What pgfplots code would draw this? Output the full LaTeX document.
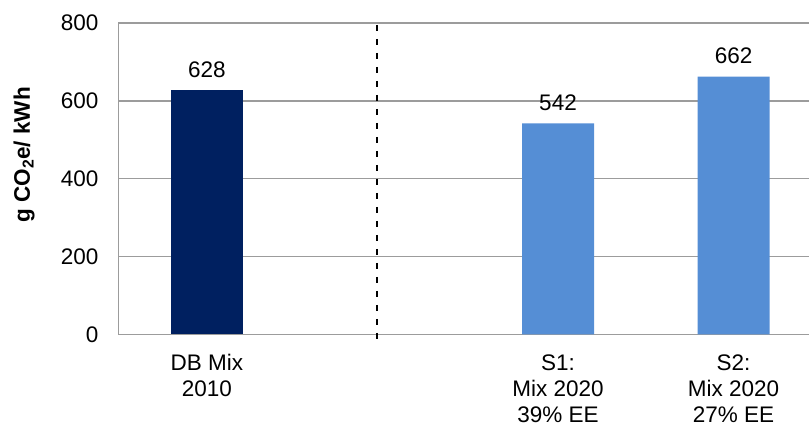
\documentclass[border=0pt]{standalone}
\usepackage{pgfplots}
\pgfplotsset{compat=1.18}
\usepackage{fontspec}
\setmainfont{Liberation Sans}
\definecolor{navybar}{HTML}{002060}
\definecolor{bluebar}{HTML}{558ED5}
\definecolor{gridgray}{HTML}{9C9C9C}

\begin{document}
\begin{tikzpicture}
\begin{axis}[
  name=ax,
  scale only axis,
  width=690.5bp, height=311.5bp,
  xmin=-0.504, xmax=3.43,
  ymin=0, ymax=800,
  ytick={0,200,400,600,800},
  xtick={0,2,3},
  xticklabels={{DB Mix\\2010},{S1:\\Mix 2020\\39\% EE},{S2:\\Mix 2020\\27\% EE}},
  axis x line*=bottom, axis y line*=left,
  axis line style={gridgray, line width=1.4bp},
  ymajorgrids, grid style={gridgray, line width=1.4bp},
  major tick length=0pt,
  tick style={draw=none},
  /pgf/number format/assume math mode=true,
  tick label style={font=\fontsize{22.5bp}{26bp}\selectfont},
  yticklabel style={anchor=east, inner sep=0pt, xshift=-20bp},
  xticklabel style={align=center, anchor=north, inner sep=0pt, yshift=-20bp},
  ybar, bar width=72bp,
  nodes near coords,
  every node near coord/.append style={anchor=south, inner sep=0pt, yshift=12.5bp,
    font=\fontsize{22.5bp}{26bp}\selectfont, text=black},
  clip=false,
]
\addplot[fill=navybar, draw=none, bar shift=0pt] coordinates {(0,628)};
\addplot[fill=bluebar, draw=none, bar shift=0pt] coordinates {(2,542) (3,662)};
\draw[black, line width=1.7bp, dash pattern=on 6bp off 8bp] (axis cs:0.97,795) -- (axis cs:0.97,-14);
\end{axis}
\node[rotate=90, font=\bfseries\fontsize{22.5bp}{26bp}\selectfont] at ([xshift=-94.5bp,yshift=179.5bp]ax.south west) {g CO\textsubscript{2}e/ kWh};
\pgfresetboundingbox
\path ([xshift=-118.5bp,yshift=-91.5bp]ax.south west) rectangle ([yshift=23bp]ax.north east);
\end{tikzpicture}
\end{document}
